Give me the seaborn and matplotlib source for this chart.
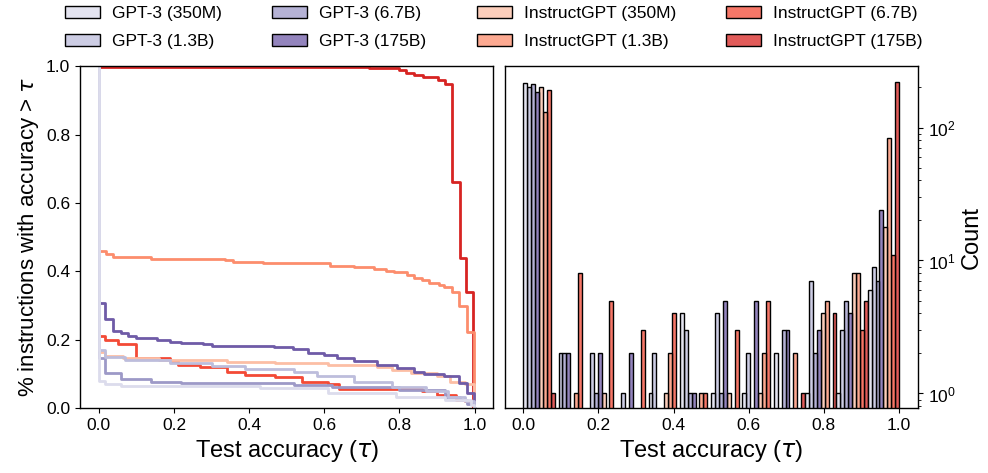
import numpy as np
import pandas as pd
import matplotlib
matplotlib.use("Agg")
import matplotlib.pyplot as plt
import seaborn as sns
from matplotlib.patches import Patch
from matplotlib.colors import to_rgba

models = ["GPT-3 (350M)", "GPT-3 (1.3B)", "GPT-3 (6.7B)", "GPT-3 (175B)",
          "InstructGPT (350M)", "InstructGPT (1.3B)", "InstructGPT (6.7B)", "InstructGPT (175B)"]
colors = ["#dcdcec", "#bdbddc", "#9d99c7", "#6f5ba7",
          "#fcbea5", "#fc8d6d", "#f34a36", "#d72422"]

# histogram counts per accuracy bin (12 bins over [0, 1])
n_bins = 12
counts_gpt3_350m = [216, 0, 0, 0, 1, 4, 1, 1, 2, 1, 1, 6]
counts_gpt3_1_3b = [200, 2, 2, 1, 2, 3, 4, 2, 0, 7, 3, 9]
counts_gpt3_6_7b = [211, 2, 1, 0, 0, 1, 1, 0, 3, 2, 5, 7]
counts_gpt3_175b = [184, 2, 2, 2, 0, 1, 5, 5, 3, 3, 4, 24]
counts_inst_350m = [200, 0, 1, 0, 1, 0, 1, 1, 0, 4, 8, 18]
counts_inst_1_3b = [131, 1, 0, 0, 2, 1, 0, 2, 2, 5, 8, 84]
counts_inst_6_7b = [193, 8, 5, 3, 4, 1, 3, 5, 0, 0, 3, 11]
counts_inst_175b = [1, 0, 0, 0, 0, 0, 0, 0, 1, 4, 5, 220]

# fraction of instructions with accuracy > tau (step curves)
tau_gpt3_350m = [0, 0, 0.016, 0.06, 0.43, 0.61, 0.79, 0.92, 0.99, 0.998, 1.0]
frac_gpt3_350m = [1.0, 0.080, 0.071, 0.066, 0.059, 0.044, 0.034, 0.024, 0.010, 0.0, 0.0]
tau_gpt3_1_3b = [0, 0, 0.016, 0.07, 0.19, 0.30, 0.39, 0.52, 0.58, 0.68, 0.78, 0.87, 0.93, 0.975, 0.998, 1.0]
frac_gpt3_1_3b = [1.0, 0.169, 0.151, 0.140, 0.132, 0.122, 0.115, 0.107, 0.093, 0.078, 0.063, 0.049, 0.034, 0.020, 0.0, 0.0]
tau_gpt3_6_7b = [0, 0, 0.016, 0.06, 0.14, 0.22, 0.52, 0.62, 0.80, 0.92, 0.96, 0.98, 0.998, 1.0]
frac_gpt3_6_7b = [1.0, 0.148, 0.102, 0.086, 0.078, 0.073, 0.068, 0.063, 0.054, 0.034, 0.024, 0.012, 0.0, 0.0]
tau_gpt3_175b = [0, 0, 0.016, 0.038, 0.060, 0.078, 0.100, 0.154, 0.189, 0.220, 0.278, 0.300, 0.465, 0.518,
                 0.558, 0.598, 0.634, 0.678, 0.740, 0.794, 0.838, 0.865, 0.918, 0.958, 0.980, 0.998, 1.0]
frac_gpt3_175b = [1.0, 0.309, 0.261, 0.226, 0.221, 0.210, 0.205, 0.200, 0.195, 0.190, 0.187, 0.182, 0.180, 0.173,
                  0.161, 0.156, 0.146, 0.137, 0.127, 0.117, 0.107, 0.100, 0.093, 0.073, 0.044, 0.0, 0.0]
tau_inst_350m = [0, 0, 0.016, 0.064, 0.16, 0.34, 0.47, 0.61, 0.74, 0.78, 0.83, 0.90, 0.935, 0.975, 0.998, 1.0]
frac_inst_350m = [1.0, 0.164, 0.153, 0.146, 0.140, 0.135, 0.132, 0.127, 0.120, 0.112, 0.102, 0.093, 0.078, 0.071, 0.0, 0.0]
tau_inst_1_3b = [0, 0, 0.020, 0.038, 0.140, 0.336, 0.358, 0.438, 0.616, 0.678, 0.732, 0.763, 0.785, 0.820,
                 0.838, 0.860, 0.878, 0.905, 0.918, 0.940, 0.958, 0.979, 0.998, 1.0]
frac_inst_1_3b = [1.0, 0.461, 0.452, 0.442, 0.437, 0.434, 0.428, 0.424, 0.417, 0.412, 0.407, 0.402, 0.397, 0.390,
                  0.380, 0.374, 0.366, 0.359, 0.354, 0.340, 0.300, 0.224, 0.0, 0.0]
tau_inst_6_7b = [0, 0, 0.016, 0.05, 0.10, 0.19, 0.21, 0.27, 0.34, 0.39, 0.47, 0.54, 0.61, 0.64, 0.86, 0.90, 0.95, 0.975, 0.998, 1.0]
frac_inst_6_7b = [1.0, 0.212, 0.200, 0.187, 0.146, 0.137, 0.127, 0.120, 0.107, 0.096, 0.090, 0.078, 0.072, 0.057, 0.050, 0.040, 0.025, 0.020, 0.0, 0.0]
tau_inst_175b = [0, 0, 0.72, 0.80, 0.818, 0.840, 0.862, 0.902, 0.920, 0.94, 0.96, 0.978, 0.997, 1.0]
frac_inst_175b = [1.0, 0.998, 0.995, 0.988, 0.980, 0.974, 0.968, 0.961, 0.948, 0.66, 0.44, 0.339, 0.0, 0.0]

all_counts = [counts_gpt3_350m, counts_gpt3_1_3b, counts_gpt3_6_7b, counts_gpt3_175b,
              counts_inst_350m, counts_inst_1_3b, counts_inst_6_7b, counts_inst_175b]
all_curves = [(tau_gpt3_350m, frac_gpt3_350m), (tau_gpt3_1_3b, frac_gpt3_1_3b),
              (tau_gpt3_6_7b, frac_gpt3_6_7b), (tau_gpt3_175b, frac_gpt3_175b),
              (tau_inst_350m, frac_inst_350m), (tau_inst_1_3b, frac_inst_1_3b),
              (tau_inst_6_7b, frac_inst_6_7b), (tau_inst_175b, frac_inst_175b)]

plt.rcParams["font.family"] = ["Liberation Sans", "DejaVu Sans"]
plt.rcParams["axes.linewidth"] = 1.0

fig, (ax1, ax2) = plt.subplots(1, 2, figsize=(9.88, 4.73), dpi=100)
fig.subplots_adjust(left=0.081, right=0.929, bottom=0.137, top=0.860, wspace=0.027)

# left: step curves, drawn so the smaller models end up on top
for (tau, frac), c in reversed(list(zip(all_curves, colors))):
    sns.lineplot(x=tau, y=frac, estimator=None, sort=False, drawstyle="steps-post",
                 color=c, linewidth=2, ax=ax1)
ax1.set_ylim(0, 1.0)
ax1.set_xlim(-0.05, 1.05)
ax1.set_xticks([0, 0.2, 0.4, 0.6, 0.8, 1.0])
ax1.set_xlabel(r"Test accuracy ($\tau$)", fontsize=17)
ax1.set_ylabel(r"% instructions with accuracy > $\tau$", fontsize=16)
ax1.tick_params(labelsize=12.5)

# right: dodged histogram on a log scale
rows = []
for m, cnts in zip(models, all_counts):
    for i, n in enumerate(cnts):
        if n > 0:
            rows.append({"model": m, "acc": (i + 0.5) / n_bins, "count": n})
df = pd.DataFrame(rows)

sns.histplot(data=df, x="acc", weights="count", hue="model", hue_order=models,
             palette=colors, multiple="dodge", bins=n_bins, binrange=(0, 1), shrink=1.0,
             alpha=0.75, edgecolor="black", linewidth=1.0, legend=False, ax=ax2)
ax2.set_yscale("log")
for p in list(ax2.patches):
    if p.get_height() <= 0:
        p.remove()
ax2.set_ylim(0.775, 289)
ax2.set_xlim(-0.05, 1.05)
ax2.set_xticks([0, 0.2, 0.4, 0.6, 0.8, 1.0])
ax2.yaxis.tick_right()
ax2.yaxis.set_label_position("right")
ax2.set_ylabel("Count", fontsize=17)
ax2.set_xlabel(r"Test accuracy ($\tau$)", fontsize=17)
ax2.tick_params(labelsize=12.5)
ax2.tick_params(axis="y", which="both", left=False, right=True)

handles = [Patch(facecolor=to_rgba(c, 0.75), edgecolor="black", linewidth=1) for c in colors]
fig.legend(handles, models, loc="upper center", ncol=4, frameon=False, fontsize=12.5,
           bbox_to_anchor=(0.5, 1.02), columnspacing=2.9, handlelength=2.0,
           labelspacing=0.75, handletextpad=0.7)

fig.savefig("out.png", dpi=100)
